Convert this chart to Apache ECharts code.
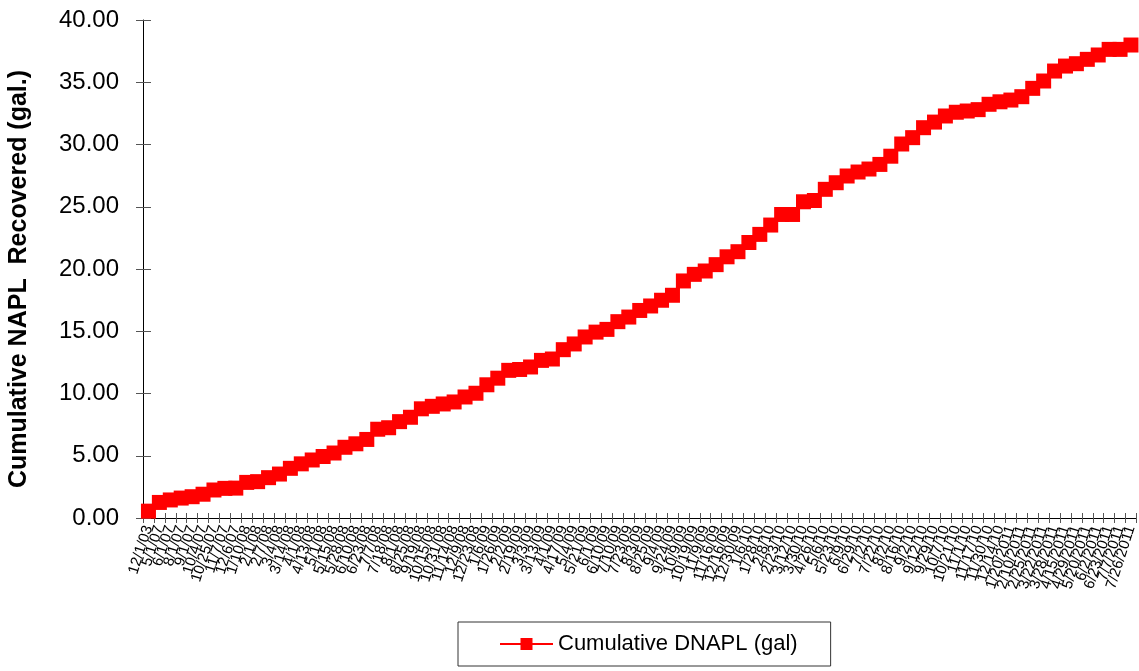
<!DOCTYPE html>
<html>
<head>
<meta charset="utf-8">
<script src="https://cdn.jsdelivr.net/npm/echarts@6/dist/echarts.min.js"></script>
<style>
  html, body { margin: 0; padding: 0; background: #fff; }
  #chart { width: 1139px; height: 671px; }
</style>
</head>
<body>
<div id="chart"></div>
<script>
// Sampling dates (category axis)
const dates = [
  '12/1/03', '5/1/07', '6/1/07', '8/1/07', '9/1/07', '10/4/07', '10/25/07', '11/7/07', '12/6/07',
  '1/10/08', '2/1/08', '2/7/08', '3/4/08', '3/14/08', '4/1/08', '4/13/08', '5/1/08', '5/15/08',
  '5/28/08', '6/10/08', '6/23/08', '7/7/08', '7/18/08', '8/1/08', '8/25/08', '9/19/08', '10/15/08',
  '10/31/08', '11/14/08', '12/9/08', '12/23/08',
  '1/6/09', '1/26/09', '2/2/09', '2/19/09', '3/3/09', '3/13/09', '4/1/09', '4/17/09', '5/4/09',
  '5/21/09', '6/1/09', '6/10/09', '7/10/09', '7/23/09', '8/3/09', '8/25/09', '9/4/09', '9/24/09',
  '10/9/09', '10/19/09', '11/9/09', '11/16/09', '12/16/09', '12/30/09',
  '1/6/10', '1/28/10', '2/8/10', '2/23/10', '3/12/10', '3/30/10', '4/26/10', '5/6/10', '5/23/10',
  '6/9/10', '6/29/10', '7/2/10', '7/22/10', '8/2/10', '8/16/10', '9/2/10', '9/12/10', '9/29/10',
  '10/7/10', '10/21/10', '11/1/10', '11/17/10', '11/30/10', '12/14/10',
  '1/20/2011', '2/10/2011', '2/25/2011', '3/22/2011', '3/28/2011', '4/15/2011', '4/29/2011',
  '5/20/2011', '6/2/2011', '6/23/2011', '7/7/2011', '7/26/2011'
];

// Cumulative DNAPL recovered (gal)
const cumulativeDnapl = [
  0.55, 1.25, 1.45, 1.60, 1.71, 1.91, 2.25, 2.38, 2.40,
  2.86, 2.92, 3.24, 3.53, 3.99, 4.35, 4.66, 4.94, 5.22,
  5.68, 5.96, 6.31, 7.13, 7.25, 7.74, 8.09, 8.77, 8.97,
  9.16, 9.32, 9.72, 10.02,
  10.70, 11.23, 11.86, 11.93, 12.13, 12.66, 12.77, 13.52, 13.98,
  14.54, 14.93, 15.15, 15.77, 16.14, 16.67, 17.03, 17.49, 17.89,
  19.04, 19.57, 19.84, 20.35, 20.98, 21.39,
  22.13, 22.78, 23.53, 24.38, 24.38, 25.40, 25.50, 26.40, 26.93,
  27.47, 27.79, 28.03, 28.40, 29.06, 30.04, 30.55, 31.35, 31.80,
  32.29, 32.59, 32.69, 32.80, 33.23, 33.43,
  33.57, 33.84, 34.51, 35.10, 35.90, 36.30, 36.49,
  36.84, 37.19, 37.64, 37.64, 37.99
];

// Value axis settings
const yMin = 0;
const yMax = 40;
const yStep = 5;

const FONT = '"Liberation Sans", Arial, sans-serif';
const RED = '#ff0000';
const TICK = '#555555';

const chart = echarts.init(document.getElementById('chart'), null, { renderer: 'canvas' });

chart.setOption({
  animation: false,
  backgroundColor: '#ffffff',
  grid: { left: 143, top: 20, width: 1000, height: 498, containLabel: false },
  legend: {
    data: ['Cumulative DNAPL (gal)'],
    left: 458,
    top: 622,
    orient: 'horizontal',
    itemWidth: 53,
    itemHeight: 15,
    itemGap: 10,
    padding: [11, 33, 11, 41],
    borderColor: '#333',
    borderWidth: 1,
    textStyle: { fontFamily: FONT, fontSize: 22, color: '#000' }
  },
  xAxis: [
    {
      type: 'category',
      data: dates,
      position: 'bottom',
      axisLine: { show: true, lineStyle: { color: '#000', width: 1 } },
      axisTick: { show: true, inside: false, length: 5, interval: 0, lineStyle: { color: TICK } },
      axisLabel: {
        interval: 0,
        rotate: 72,
        margin: 8,
        fontFamily: FONT,
        fontSize: 15,
        color: '#000'
      },
      splitLine: { show: false }
    },
    {
      type: 'category',
      data: dates,
      position: 'bottom',
      axisLine: { show: false },
      axisTick: { show: true, inside: true, length: 5, interval: 0, lineStyle: { color: TICK } },
      axisLabel: { show: false },
      splitLine: { show: false }
    }
  ],
  yAxis: [
    {
      type: 'value',
      min: yMin,
      max: yMax,
      interval: yStep,
      position: 'left',
      axisLine: { show: true, lineStyle: { color: '#000', width: 1 } },
      axisTick: { show: true, inside: false, length: 7, lineStyle: { color: TICK } },
      axisLabel: {
        margin: 24,
        fontFamily: FONT,
        fontSize: 24,
        color: '#000',
        formatter: v => v.toFixed(2)
      },
      splitLine: { show: false }
    },
    {
      type: 'value',
      min: yMin,
      max: yMax,
      interval: yStep,
      position: 'left',
      axisLine: { show: false },
      axisTick: { show: true, inside: true, length: 8, lineStyle: { color: TICK } },
      axisLabel: { show: false },
      splitLine: { show: false }
    }
  ],
  graphic: [
    {
      type: 'text',
      x: 19,
      y: 279,
      rotation: Math.PI / 2,
      style: {
        text: 'Cumulative NAPL  Recovered (gal.)',
        font: 'bold 25px ' + FONT,
        fill: '#000',
        align: 'center',
        verticalAlign: 'middle'
      }
    }
  ],
  series: [
    {
      name: 'Cumulative DNAPL (gal)',
      type: 'line',
      xAxisIndex: 0,
      yAxisIndex: 0,
      data: cumulativeDnapl,
      symbol: 'rect',
      symbolSize: 15,
      showAllSymbol: true,
      lineStyle: { color: RED, width: 3 },
      itemStyle: { color: RED, borderWidth: 0 },
      emphasis: { disabled: true }
    }
  ]
});
</script>
</body>
</html>
